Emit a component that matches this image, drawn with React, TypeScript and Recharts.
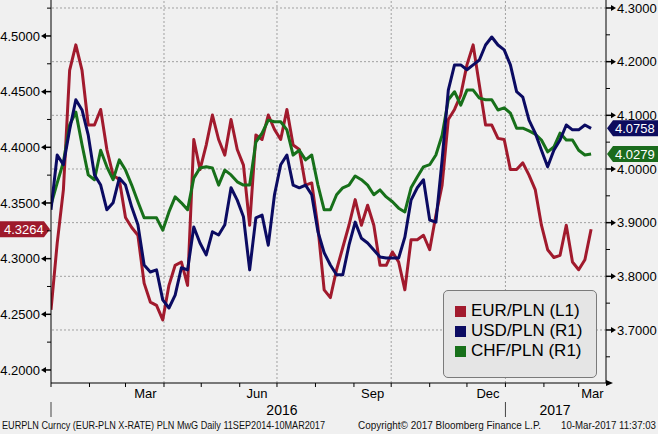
import { LineChart, Line, XAxis, YAxis, ReferenceLine } from "recharts";

const W = 658;
const H = 434;
const FONT = "'Liberation Sans', Arial, sans-serif";

// day index counted from 1 Jan 2016, one point every 5 days
const days = [
  0, 5, 10, 15, 20, 25, 30, 35, 40, 45, 50, 55, 60, 65, 70, 75, 80, 85, 90, 95,
  100, 105, 110, 115, 120, 125, 130, 135, 140, 145, 150, 155, 160, 165, 170, 175,
  180, 185, 190, 195, 200, 205, 210, 215, 220, 225, 230, 235, 240, 245, 250, 255,
  260, 265, 270, 275, 280, 285, 290, 295, 300, 305, 310, 315, 320, 325, 330, 335,
  340, 345, 350, 355, 360, 365, 370, 375, 380, 385, 390, 395, 400, 405, 410, 415,
  420, 425, 430, 435,
];

const eurPln = [
  4.254, 4.314, 4.362, 4.469, 4.492, 4.469, 4.42, 4.42, 4.434, 4.398,
  4.375, 4.371, 4.337, 4.328, 4.321, 4.278, 4.261, 4.258, 4.245, 4.276,
  4.294, 4.297, 4.276, 4.407, 4.38, 4.402, 4.429, 4.407, 4.393, 4.425,
  4.398, 4.384, 4.33, 4.411, 4.407, 4.429, 4.416, 4.407, 4.434, 4.402,
  4.398, 4.366, 4.368, 4.328, 4.272, 4.265, 4.29, 4.31, 4.33, 4.353,
  4.33, 4.348, 4.33, 4.294, 4.294, 4.306, 4.297, 4.272, 4.317, 4.317,
  4.321, 4.308, 4.339, 4.366, 4.425, 4.434, 4.447, 4.474, 4.492, 4.456,
  4.42, 4.42, 4.408, 4.407, 4.38, 4.38, 4.386, 4.375, 4.362, 4.33,
  4.308, 4.301, 4.303, 4.33, 4.297, 4.29, 4.299, 4.3264,
];

const usdPln = [
  3.924, 4.026, 4.008, 4.073, 4.129, 4.11, 4.063, 3.989, 3.97, 3.924,
  3.937, 3.983, 3.97, 3.929, 3.896, 3.821, 3.808, 3.812, 3.756, 3.741,
  3.765, 3.816, 3.812, 3.892, 3.862, 3.84, 3.883, 3.877, 3.896, 3.965,
  3.942, 3.911, 3.812, 3.909, 3.914, 3.858, 3.952, 4.008, 4.026, 3.97,
  3.965, 3.97, 3.952, 3.883, 3.844, 3.821, 3.803, 3.803, 3.858, 3.901,
  3.871, 3.862, 3.849, 3.836, 3.834, 3.834, 3.834, 3.873, 3.942, 3.965,
  3.98, 3.905, 3.901, 4.017, 4.147, 4.194, 4.194, 4.185, 4.194, 4.203,
  4.231, 4.246, 4.231, 4.222, 4.194, 4.144, 4.134, 4.091, 4.067, 4.035,
  4.004, 4.035, 4.054, 4.082, 4.073, 4.073, 4.082, 4.0758,
];

const chfPln = [
  3.933, 3.974, 4.013, 4.082, 4.106, 4.045, 3.989, 3.98, 4.035, 4.004,
  3.98, 4.017, 3.998, 3.97, 3.939, 3.909, 3.909, 3.909, 3.886, 3.92,
  3.948, 3.937, 3.924, 3.983, 4.002, 4.004, 4.002, 3.97, 3.998, 3.989,
  3.976, 3.97, 3.97, 4.05, 4.067, 4.091, 4.088, 4.088, 4.073, 4.026,
  4.035, 4.017, 4.026, 3.97, 3.924, 3.924, 3.952, 3.965, 3.97, 3.987,
  3.98, 3.97, 3.952, 3.961, 3.948, 3.939, 3.927, 3.92, 3.965, 3.985,
  4.004, 4.008, 4.026, 4.063, 4.129, 4.144, 4.119, 4.147, 4.147, 4.132,
  4.129, 4.129, 4.11, 4.114, 4.104, 4.076, 4.076, 4.071, 4.065, 4.054,
  4.032, 4.041, 4.067, 4.054, 4.054, 4.035, 4.026, 4.0279,
];

const seriesNames = ["EUR/PLN (L1)", "USD/PLN (R1)", "CHF/PLN (R1)"];
const seriesColors = ["#a11a2d", "#0b0b62", "#17701a"];
const tagColors = ["#9e1a2b", "#0c0c5e", "#1a6b1c"];

const leftTicks = [
  4.2, 4.225, 4.25, 4.275, 4.3, 4.325, 4.35, 4.375, 4.4, 4.425, 4.45, 4.475,
  4.5, 4.525,
];
const rightTicks = [
  3.65, 3.7, 3.75, 3.8, 3.85, 3.9, 3.95, 4.0, 4.05, 4.1, 4.15, 4.2, 4.25, 4.3,
];
const gridValues = [3.7, 3.8, 3.9, 4.0, 4.1, 4.2, 4.3];
const quarterDays = [91, 182, 274, 366];

const monthStartDays = [0, 31, 60, 91, 121, 152, 182, 213, 244, 274, 305, 335, 366, 397, 425];
const monthLabelDays = [76, 166, 259, 352, 436];
const monthLabelNames = ["Mar", "Jun", "Sep", "Dec", "Mar"];
const yearStartDays = [0, 366];
const yearLabelDays = [186, 406];
const yearLabelNames = ["2016", "2017"];

const footerLeft = "EURPLN Curncy (EUR-PLN X-RATE) PLN MwG  Daily 11SEP2014-10MAR2017";
const footerMid = "Copyright\u00a9 2017 Bloomberg Finance L.P.";
const footerRight = "10-Mar-2017 11:37:03";

const rows = days.map((d, i) => ({
  day: d,
  eur: eurPln[i],
  usd: usdPln[i],
  chf: chfPln[i],
}));

function LeftTick({ x, y, payload }: any) {
  const v = payload.value as number;
  if (Math.round(v * 1000) % 50 !== 0) {
    return <line x1={x - 4} x2={x} y1={y} y2={y} stroke="#000" />;
  }
  return (
    <g>
      <path d={`M${x - 10},${y} L${x - 5},${y - 3} L${x - 5},${y + 3} Z`} fill="#000" />
      <line x1={x - 5} x2={x} y1={y} y2={y} stroke="#000" strokeWidth={1.5} />
      <text x={x - 11} y={y} dy="0.36em" textAnchor="end" fontSize={13} fontFamily={FONT} fill="#000">
        {v.toFixed(4)}
      </text>
    </g>
  );
}

function RightTick({ x, y, payload }: any) {
  const v = payload.value as number;
  if (Math.round(v * 1000) % 100 !== 0) {
    return <line x1={x} x2={x + 4} y1={y} y2={y} stroke="#000" />;
  }
  return (
    <g>
      <line x1={x} x2={x + 5} y1={y} y2={y} stroke="#000" strokeWidth={1.5} />
      <path d={`M${x + 10},${y} L${x + 5},${y - 3} L${x + 5},${y + 3} Z`} fill="#000" />
      <text x={x + 11} y={y} dy="0.36em" textAnchor="start" fontSize={13} fontFamily={FONT} fill="#000">
        {v.toFixed(4)}
      </text>
    </g>
  );
}

function XTick({ x, y, payload }: any) {
  const v = payload.value as number;
  const parts = [];
  if (monthStartDays.includes(v)) {
    parts.push(<line key="t" x1={x} x2={x} y1={y} y2={y + 4} stroke="#000" />);
  }
  if (yearStartDays.includes(v)) {
    parts.push(<line key="y" x1={x} x2={x} y1={y + 19} y2={y + 34} stroke="#444" />);
  }
  const mi = monthLabelDays.indexOf(v);
  if (mi >= 0) {
    parts.push(
      <text key="m" x={x} y={y + 15} textAnchor="middle" fontSize={13} fontFamily={FONT} fill="#000">
        {monthLabelNames[mi]}
      </text>
    );
  }
  const yi = yearLabelDays.indexOf(v);
  if (yi >= 0) {
    parts.push(
      <text key="yl" x={x} y={y + 32} textAnchor="middle" fontSize={14} fontFamily={FONT} fill="#000">
        {yearLabelNames[yi]}
      </text>
    );
  }
  return <g>{parts}</g>;
}

function ValueTag({ viewBox, side, color, text }: any) {
  if (!viewBox) return null;
  const y = viewBox.y;
  if (side === "left") {
    const tip = viewBox.x - 1;
    return (
      <g>
        <path d={`M0,${y - 8} L${tip - 6},${y - 8} L${tip},${y} L${tip - 6},${y + 8} L0,${y + 8} Z`} fill={color} />
        <text x={4} y={y} dy="0.36em" fontSize={13} fontFamily={FONT} fill="#fff">
          {text}
        </text>
      </g>
    );
  }
  const tip = viewBox.x + viewBox.width + 1;
  return (
    <g>
      <path d={`M${tip},${y} L${tip + 6},${y - 8} L${W},${y - 8} L${W},${y + 8} L${tip + 6},${y + 8} Z`} fill={color} />
      <text x={tip + 8} y={y} dy="0.36em" fontSize={13} fontFamily={FONT} fill="#fff">
        {text}
      </text>
    </g>
  );
}

const allTicks = [...monthStartDays, ...monthLabelDays, ...yearLabelDays].sort((a, b) => a - b);

export default function App() {
  const lastEur = eurPln[eurPln.length - 1];
  const lastUsd = usdPln[usdPln.length - 1];
  const lastChf = chfPln[chfPln.length - 1];

  return (
    <div style={{ position: "relative", width: W, height: H, background: "#f0f0f0", fontFamily: FONT }}>
      <style>{"body{margin:0;}"}</style>
      <LineChart width={W} height={H} data={rows} margin={{ top: 0, right: 0, bottom: 0, left: 0 }}>
        <XAxis
          dataKey="day"
          type="number"
          domain={[0, 447]}
          allowDataOverflow
          ticks={allTicks}
          interval={0}
          tick={<XTick />}
          tickLine={false}
          tickSize={0}
          tickMargin={0}
          axisLine={{ stroke: "#000" }}
          height={51}
        />
        <YAxis
          yAxisId="left"
          orientation="left"
          domain={[4.1883, 4.5323]}
          allowDataOverflow
          ticks={leftTicks}
          interval={0}
          tick={<LeftTick />}
          tickLine={false}
          tickSize={0}
          tickMargin={0}
          axisLine={{ stroke: "#000" }}
          width={51}
        />
        <YAxis
          yAxisId="right"
          orientation="right"
          domain={[3.6012, 4.3149]}
          allowDataOverflow
          ticks={rightTicks}
          interval={0}
          tick={<RightTick />}
          tickLine={false}
          tickSize={0}
          tickMargin={0}
          axisLine={{ stroke: "#000" }}
          width={52}
        />
        {gridValues.map((v) => (
          <ReferenceLine key={`h${v}`} yAxisId="right" y={v} stroke="#a0a0a0" strokeDasharray="2 2" />
        ))}
        {quarterDays.map((d) => (
          <ReferenceLine key={`v${d}`} yAxisId="left" x={d} stroke="#a0a0a0" strokeDasharray="2 2" />
        ))}
        <Line
          yAxisId="left"
          dataKey="eur"
          name={seriesNames[0]}
          stroke={seriesColors[0]}
          strokeWidth={3}
          dot={false}
          type="linear"
          strokeLinejoin="round"
          isAnimationActive={false}
        />
        <Line
          yAxisId="right"
          dataKey="chf"
          name={seriesNames[2]}
          stroke={seriesColors[2]}
          strokeWidth={3}
          dot={false}
          type="linear"
          strokeLinejoin="round"
          isAnimationActive={false}
        />
        <Line
          yAxisId="right"
          dataKey="usd"
          name={seriesNames[1]}
          stroke={seriesColors[1]}
          strokeWidth={3}
          dot={false}
          type="linear"
          strokeLinejoin="round"
          isAnimationActive={false}
        />
        <ReferenceLine
          yAxisId="left"
          y={lastEur}
          stroke="none"
          label={<ValueTag side="left" color={tagColors[0]} text={lastEur.toFixed(4)} />}
        />
        <ReferenceLine
          yAxisId="right"
          y={lastUsd}
          stroke="none"
          label={<ValueTag side="right" color={tagColors[1]} text={lastUsd.toFixed(4)} />}
        />
        <ReferenceLine
          yAxisId="right"
          y={lastChf}
          stroke="none"
          label={<ValueTag side="right" color={tagColors[2]} text={lastChf.toFixed(4)} />}
        />
      </LineChart>

      <div
        style={{
          position: "absolute",
          left: 443,
          top: 290,
          width: 152,
          height: 76,
          background: "#e5e5e5",
          border: "1px solid #7a7a7a",
          borderRadius: 5,
          paddingTop: 10,
          boxSizing: "content-box",
        }}
      >
        {seriesNames.map((n, i) => (
          <div key={n} style={{ display: "flex", alignItems: "center", height: 20, fontSize: 17, lineHeight: "20px" }}>
            <span style={{ width: 11, height: 11, background: seriesColors[i], marginLeft: 11, marginRight: 5 }} />
            <span style={{ color: "#000" }}>{n}</span>
          </div>
        ))}
      </div>

      <svg width={W} height={H} style={{ position: "absolute", left: 0, top: 0, pointerEvents: "none" }}>
        <path d="M606,380 L613,383 L606,386 Z" fill="#000" />
        <text x={2} y={429} fontSize={10} fontFamily={FONT} textLength={323} lengthAdjust="spacingAndGlyphs" fill="#111">
          {footerLeft}
        </text>
        <text x={358} y={429} fontSize={10} fontFamily={FONT} textLength={183} lengthAdjust="spacingAndGlyphs" fill="#111">
          {footerMid}
        </text>
        <text x={561} y={429} fontSize={10} fontFamily={FONT} textLength={95} lengthAdjust="spacingAndGlyphs" fill="#111">
          {footerRight}
        </text>
      </svg>
    </div>
  );
}
